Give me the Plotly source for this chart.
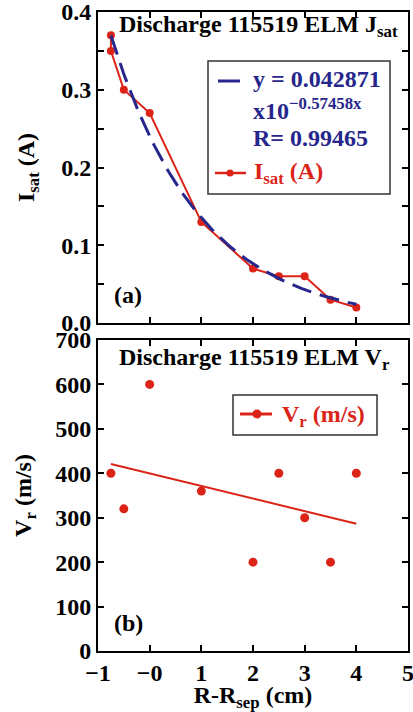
import numpy as np
import plotly.graph_objects as go

# Probe positions R - R_sep (cm) and measured quantities
r_isat = [-0.75, -0.75, -0.5, 0.0, 1.0, 2.0, 2.5, 3.0, 3.5, 4.0]
isat = [0.37, 0.35, 0.30, 0.27, 0.13, 0.07, 0.06, 0.06, 0.03, 0.02]

r_vr = [-0.75, -0.5, 0.0, 1.0, 2.0, 2.5, 3.0, 3.5, 4.0]
vr = [400, 320, 600, 360, 200, 400, 300, 200, 400]

# Tick labels
x_ticks = [-1, 0, 1, 2, 3, 4, 5]
x_ticktext = ["\u22121", "\u22120", "1", "2", "3", "4", "5"]
isat_ticks = [0.0, 0.05, 0.1, 0.15, 0.2, 0.25, 0.3, 0.35, 0.4]
isat_ticktext = ["0.0", "", "0.1", "", "0.2", "", "0.3", "", "0.4"]
vr_ticks = [0, 100, 200, 300, 400, 500, 600, 700]

RED = "#dc2318"
NAVY = "#26268c"
FONT = "Liberation Serif"
W, H = 413, 712
ML, MR, MT, MB = 98, 5, 12, 61


def px(x):
    """pixel column -> paper x"""
    return (x - ML) / (W - ML - MR)


def py(y):
    """pixel row -> paper y"""
    return (H - MB - y) / (H - MT - MB)


# Exponential fit of I_sat (log10 linear regression)
xa = np.array(r_isat)
slope, icpt = np.polyfit(xa, np.log10(isat), 1)
xf = np.linspace(xa.min(), xa.max(), 120)
yf = 10 ** (icpt + slope * xf)

# Linear fit of V_r
xb = np.array(r_vr)
s2, i2 = np.polyfit(xb, np.array(vr, dtype=float), 1)
xl = np.array([xb.min(), xb.max()])
yl = i2 + s2 * xl

fig = go.Figure()

fig.add_trace(go.Scatter(
    x=r_isat, y=isat, mode="lines+markers", xaxis="x", yaxis="y",
    line=dict(color=RED, width=2), marker=dict(color=RED, size=8),
    showlegend=False,
))
fig.add_trace(go.Scatter(
    x=xf, y=yf, mode="lines", xaxis="x", yaxis="y",
    line=dict(color=NAVY, width=3, dash="20px,9px"), showlegend=False,
))
fig.add_trace(go.Scatter(
    x=r_vr, y=vr, mode="markers", xaxis="x2", yaxis="y2",
    marker=dict(color=RED, size=9), showlegend=False,
))
fig.add_trace(go.Scatter(
    x=xl, y=yl, mode="lines", xaxis="x2", yaxis="y2",
    line=dict(color=RED, width=2), showlegend=False,
))

axis_common = dict(
    showline=True, linecolor="black", linewidth=2, mirror="ticks",
    ticks="inside", ticklen=6, tickwidth=1.5, tickcolor="black",
    showgrid=False, zeroline=False, automargin=False,
    ticklabeloverflow="allow",
    tickfont=dict(family=FONT, size=24, color="black", weight="bold"),
)
tfont = dict(family=FONT, size=24, weight="bold", color="black")

# Legend boxes, drawn in paper coordinates
shapes = [
    # panel (a) key
    dict(type="rect", xref="paper", yref="paper",
         x0=px(208), x1=px(390), y0=py(194), y1=py(61),
         line=dict(color="#333333", width=1.5), fillcolor="white", layer="above"),
    dict(type="line", xref="paper", yref="paper",
         x0=px(218), x1=px(240), y0=py(81), y1=py(81),
         line=dict(color=NAVY, width=3), layer="above"),
    dict(type="line", xref="paper", yref="paper",
         x0=px(215), x1=px(246), y0=py(173), y1=py(173),
         line=dict(color=RED, width=2.5), layer="above"),
    dict(type="circle", xref="paper", yref="paper",
         x0=px(226.5), x1=px(233.5), y0=py(176.5), y1=py(169.5),
         line=dict(color=RED, width=0), fillcolor=RED, layer="above"),
    # panel (b) key
    dict(type="rect", xref="paper", yref="paper",
         x0=px(233), x1=px(377), y0=py(435), y1=py(395),
         line=dict(color="#333333", width=1.5), fillcolor="white", layer="above"),
    dict(type="line", xref="paper", yref="paper",
         x0=px(240), x1=px(272), y0=py(414), y1=py(414),
         line=dict(color=RED, width=3), layer="above"),
    dict(type="circle", xref="paper", yref="paper",
         x0=px(252.5), x1=px(261.5), y0=py(418.5), y1=py(409.5),
         line=dict(color=RED, width=0), fillcolor=RED, layer="above"),
]


def note(text, x, y, color="black", xref="paper", yref="paper", **kw):
    return dict(text=text, x=x, y=y, xref=xref, yref=yref,
                xanchor="left", yanchor="middle", showarrow=False,
                font=dict(family=FONT, size=24, weight="bold", color=color), **kw)


annotations = [
    note("Discharge 115519 ELM J<sub>sat</sub>", 0.061, 0.955, xref="x domain", yref="y domain"),
    note("(a)", 0.045, 0.09, xref="x domain", yref="y domain"),
    note("Discharge 115519 ELM V<sub>r</sub>", 0.061, 0.94, xref="x2 domain", yref="y2 domain"),
    note("(b)", 0.045, 0.09, xref="x2 domain", yref="y2 domain"),
    note("y = 0.042871", px(251), py(79), color=NAVY),
    note("x10<sup>\u22120.57458x</sup>", px(251), py(109), color=NAVY),
    note("R= 0.99465", px(251), py(138), color=NAVY),
    note("I<sub>sat</sub> (A)", px(252), py(173), color=RED),
    note("V<sub>r</sub> (m/s)", px(280), py(416), color=RED),
]

fig.update_layout(
    width=W, height=H,
    margin=dict(l=ML, r=MR, t=MT, b=MB),
    paper_bgcolor="white", plot_bgcolor="white",
    font=dict(family=FONT, size=24, color="black", weight="bold"),
    showlegend=False,
    xaxis=dict(domain=[0, 1], anchor="y", range=[-1, 5], tickvals=x_ticks,
               showticklabels=False, **axis_common),
    yaxis=dict(domain=[py(323), 1], anchor="x", range=[0, 0.4],
               tickvals=isat_ticks, ticktext=isat_ticktext,
               title=dict(text="I<sub>sat</sub> (A)", standoff=20, font=tfont),
               **axis_common),
    xaxis2=dict(domain=[0, 1], anchor="y2", range=[-1, 5], tickvals=x_ticks,
                ticktext=x_ticktext, ticklabelstandoff=-1,
                title=dict(text="R-R<sub>sep</sub> (cm)", standoff=17, font=tfont),
                **axis_common),
    yaxis2=dict(domain=[0, py(340)], anchor="x2", range=[0, 700],
                tickvals=vr_ticks,
                title=dict(text="V<sub>r</sub> (m/s)", standoff=17, font=tfont),
                **axis_common),
    shapes=shapes,
    annotations=annotations,
)

fig.write_html("out.html")
